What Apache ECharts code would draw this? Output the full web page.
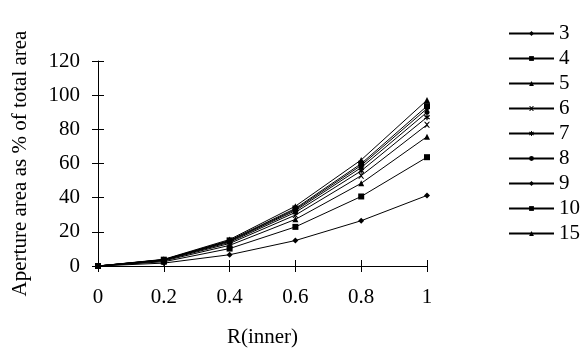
<!DOCTYPE html>
<html>
<head>
<meta charset="utf-8">
<script src="https://cdn.jsdelivr.net/npm/echarts@6/dist/echarts.min.js"></script>
<style>
  html, body { margin: 0; padding: 0; background: #fff; }
  #chart { width: 586px; height: 353px; }
</style>
</head>
<body>
<div id="chart"></div>
<script>
// values
const rInner = [0, 0.2, 0.4, 0.6, 0.8, 1];
const seriesNames = ['3', '4', '5', '6', '7', '8', '9', '10', '15'];
const s3 = [0, 1.7, 6.6, 14.9, 26.5, 41.3];
const s4 = [0, 2.5, 10.2, 22.9, 40.7, 63.7];
const s5 = [0, 3.0, 12.1, 27.3, 48.4, 75.7];
const s6 = [0, 3.3, 13.2, 29.8, 52.9, 82.7];
const s7 = [0, 3.5, 13.9, 31.4, 55.7, 87.1];
const s8 = [0, 3.6, 14.4, 32.4, 57.6, 90.0];
const s9 = [0, 3.7, 14.7, 33.1, 58.9, 92.1];
const s10 = [0, 3.7, 15.0, 33.7, 59.9, 93.6];
const s15 = [0, 3.9, 15.5, 35.0, 62.1, 97.1];
const allValues = [s3, s4, s5, s6, s7, s8, s9, s10, s15];

const crossPath = 'path://M0,0L2,0L5,3L8,0L10,0L6,5L10,10L8,10L5,7L2,10L0,10L4,5Z';
const starPath = 'path://M4,0L6,0L6,3L9,1L10,3L7,5L10,7L9,9L6,7L6,10L4,10L4,7L1,9L0,7L3,5L0,3L1,1L4,3Z';
const markers = [
  ['diamond', 6], ['rect', 6], ['triangle', 6], [crossPath, 6], [starPath, 6],
  ['circle', 5], ['diamond', 5], ['rect', 6], ['triangle', 6]
];

const font = 'Liberation Serif';

let myChart = echarts.init(document.getElementById('chart'));
let option = {
  animation: false,
  backgroundColor: '#fff',
  grid: { left: 98, right: 159, top: 61, bottom: 85 },
  legend: {
    orient: 'vertical',
    left: 503,
    top: 18,
    itemWidth: 45,
    itemHeight: 6,
    itemGap: 4,
    textStyle: { fontFamily: font, fontSize: 21, lineHeight: 21, color: '#000' },
    data: seriesNames
  },
  xAxis: [{
    type: 'value', min: 0, max: 1, interval: 0.2,
    name: 'R(inner)', nameLocation: 'middle', nameGap: 61,
    nameTextStyle: { fontFamily: font, fontSize: 21, color: '#000' },
    axisLine: { lineStyle: { color: '#000', width: 1 } },
    axisTick: { show: true, length: 6, lineStyle: { color: '#000' } },
    axisLabel: { fontFamily: font, fontSize: 21, color: '#000', margin: 21,
      formatter: v => String(+v.toFixed(1)) },
    splitLine: { show: false }
  }, {
    type: 'value', min: 0, max: 1, interval: 0.2, position: 'bottom',
    axisLine: { show: false },
    axisTick: { show: true, inside: true, length: 6, lineStyle: { color: '#000' } },
    axisLabel: { show: false },
    splitLine: { show: false }
  }],
  yAxis: [{
    type: 'value', min: 0, max: 120, interval: 20,
    name: 'Aperture area as % of total area', nameLocation: 'middle', nameGap: 67,
    nameTextStyle: { fontFamily: font, fontSize: 21, color: '#000' },
    axisLine: { show: true, lineStyle: { color: '#000', width: 1 } },
    axisTick: { show: true, length: 6, lineStyle: { color: '#000' } },
    axisLabel: { fontFamily: font, fontSize: 21, color: '#000', margin: 18 },
    splitLine: { show: false }
  }, {
    type: 'value', min: 0, max: 120, interval: 20, position: 'left',
    axisLine: { show: false },
    axisTick: { show: true, inside: true, length: 6, lineStyle: { color: '#000' } },
    axisLabel: { show: false },
    splitLine: { show: false }
  }],
  series: seriesNames.map((name, i) => ({
    name: name,
    type: 'line',
    xAxisIndex: 0,
    yAxisIndex: 0,
    data: rInner.map((r, j) => [r, allValues[i][j]]),
    symbol: markers[i][0],
    symbolSize: markers[i][1],
    showAllSymbol: true,
    lineStyle: { color: '#000', width: 1 },
    itemStyle: { color: '#000' }
  }))
};
myChart.setOption(option);
</script>
</body>
</html>
